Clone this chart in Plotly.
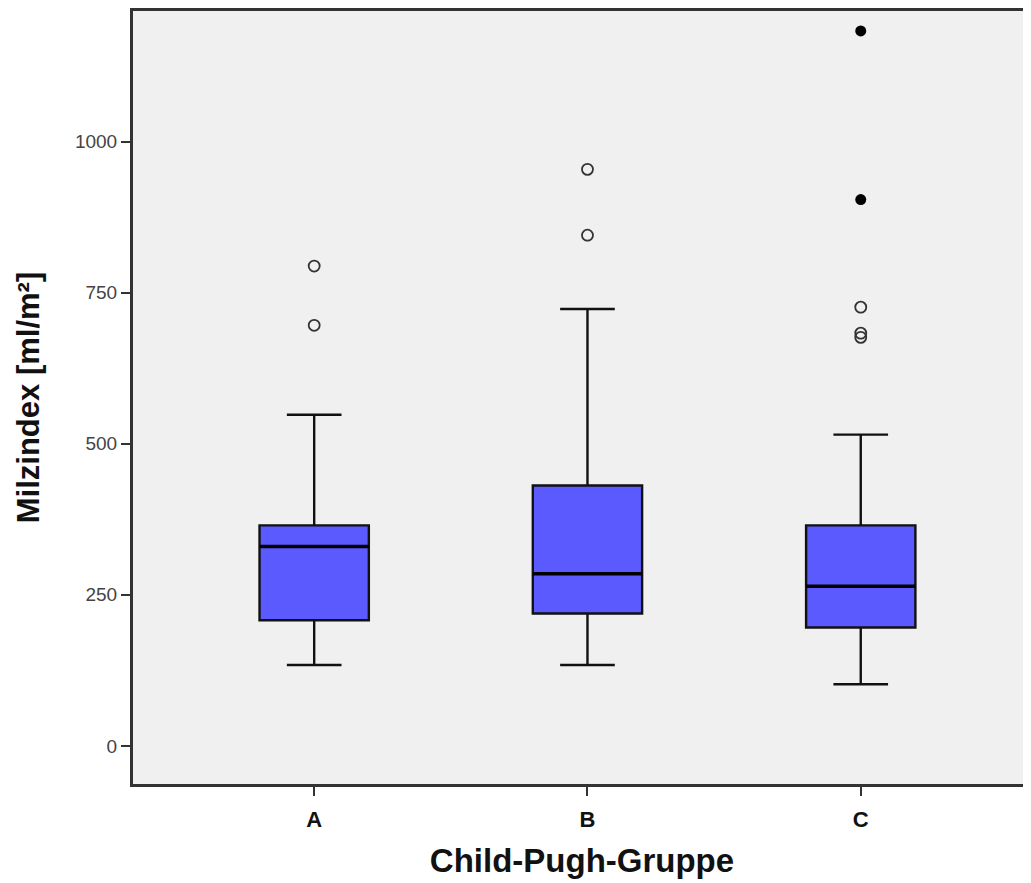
import plotly.graph_objects as go

# ---- data ----
groups = ["A", "B", "C"]
q1 = [208, 219, 196]
median = [330, 285, 264]
q3 = [365, 431, 365]
lower_whisker = [134, 134, 102]
upper_whisker = [548, 723, 515]

# outliers (open circles) and extremes (filled circles)
outlier_group = ["A", "A", "B", "B", "C", "C", "C"]
outlier_value = [794, 696, 954, 845, 726, 683, 676]
extreme_group = ["C", "C"]
extreme_value = [1183, 904]

y_ticks = [0, 250, 500, 750, 1000]

# ---- styling ----
FONT = "Arial, Liberation Sans, sans-serif"
BOX_FILL = "#5A5AFF"
BOX_WIDTH = 0.40

pos = {g: i for i, g in enumerate(groups)}
xs = [pos[g] for g in groups]

fig = go.Figure()

fig.add_trace(go.Box(
    x=xs,
    q1=q1, median=median, q3=q3,
    lowerfence=lower_whisker, upperfence=upper_whisker,
    width=BOX_WIDTH, whiskerwidth=0.5,
    fillcolor=BOX_FILL,
    line=dict(color="#111111", width=2.4),
    boxpoints=False,
    showlegend=False,
    hoverinfo="skip",
))

# thicker median lines
mx, my = [], []
for g, m in zip(groups, median):
    i = pos[g]
    mx += [i - BOX_WIDTH / 2, i + BOX_WIDTH / 2, None]
    my += [m, m, None]
fig.add_trace(go.Scatter(
    x=mx, y=my, mode="lines",
    line=dict(color="#000000", width=3.5),
    showlegend=False, hoverinfo="skip",
))

fig.add_trace(go.Scatter(
    x=[pos[g] for g in outlier_group], y=outlier_value,
    mode="markers",
    marker=dict(symbol="circle-open", size=11, color="#333333",
                line=dict(width=1.8, color="#333333")),
    showlegend=False,
))
fig.add_trace(go.Scatter(
    x=[pos[g] for g in extreme_group], y=extreme_value,
    mode="markers",
    marker=dict(symbol="circle", size=11, color="#000000"),
    showlegend=False,
))

# page body has an 8px margin, so the figure is sized to fit the window
fig.update_layout(
    width=1023, height=875,
    margin=dict(l=125, r=0, t=1, b=99),
    paper_bgcolor="white",
    plot_bgcolor="#F0F0F0",
    font=dict(family=FONT, color="#222222"),
    showlegend=False,
)

fig.update_xaxes(
    range=[-0.663, 2.623],
    tickvals=xs, ticktext=groups,
    tickfont=dict(size=22, family=FONT, color="#111111", weight="bold"),
    ticks="outside", ticklen=9, tickwidth=2, tickcolor="#333333",
    ticklabelstandoff=5,
    showline=True, linecolor="#333333", linewidth=2.5, mirror=True,
    showgrid=False, zeroline=False,
    title=dict(text="<b>Child-Pugh-Gruppe</b>", font=dict(size=33, family=FONT, color="#111111"),
               standoff=18),
)
fig.update_yaxes(
    range=[-63, 1216],
    tickvals=y_ticks, ticktext=[str(v) for v in y_ticks],
    tickfont=dict(size=19, family=FONT, color="#444444"),
    ticks="outside", ticklen=9, tickwidth=2, tickcolor="#333333",
    showline=True, linecolor="#333333", linewidth=3, mirror=False,
    showgrid=False, zeroline=False,
    title=dict(text="<b>Milzindex [ml/m²]</b>", font=dict(size=31, family=FONT, color="#111111"),
               standoff=27),
)

fig.write_html("out.html")
